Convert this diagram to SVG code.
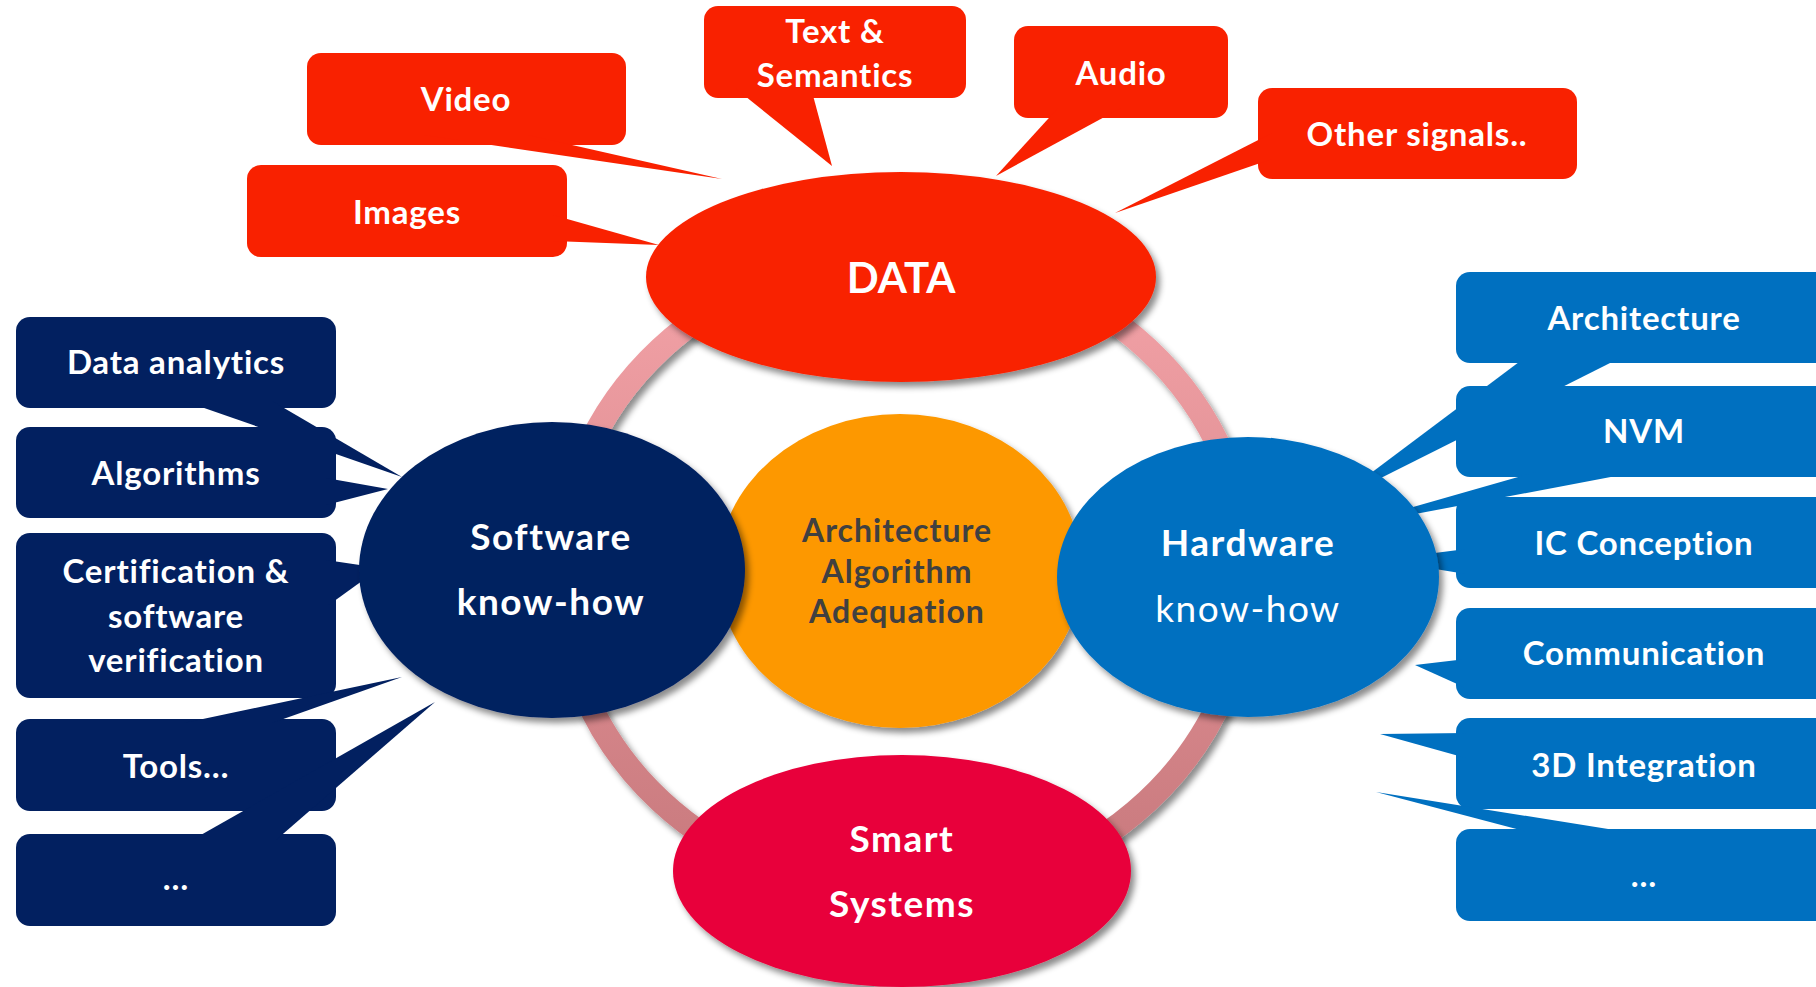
<svg xmlns="http://www.w3.org/2000/svg" width="1816" height="987" viewBox="0 0 1816 987">
  <defs>
    <linearGradient id="ringGrad" gradientUnits="userSpaceOnUse" x1="0" y1="255" x2="0" y2="895">
      <stop offset="0" stop-color="#F4A3A8"/>
      <stop offset="1" stop-color="#C7787C"/>
    </linearGradient>
    <filter id="shadow" x="-10%" y="-10%" width="125%" height="130%">
      <feDropShadow dx="4" dy="5" stdDeviation="3" flood-color="#000" flood-opacity="0.45"/>
    </filter>
    <style>
      .red { fill: #F92100; }
      .navy { fill: #022060; }
      .blue { fill: #0070C0; }
      .lbl { font-family: "Lato", "Liberation Sans", sans-serif; font-weight: 700; fill: #FFFFFF; text-anchor: middle; }
      .call { font-size: 33px; letter-spacing: 0.8px; }
      .big { font-size: 37px; letter-spacing: 1.5px; }
      .thin { font-weight: 400; }
      .core { font-family: "Lato", "Liberation Sans", sans-serif; font-weight: 700; font-size: 32px; letter-spacing: 1px; fill: #404040; text-anchor: middle; }
    </style>
  </defs>

  <rect width="1816" height="987" fill="#FFFFFF"/>

  <!-- ring joining the four poles -->
  <g id="connectors">
    <ellipse cx="904" cy="575" rx="344" ry="320" fill="none" stroke="url(#ringGrad)" stroke-width="24" filter="url(#shadow)"/>
  </g>

  <!-- data sources (red callouts) -->
  <g id="video">
    <rect class="red" x="307" y="53" width="319" height="92" rx="14"/>
    <polygon class="red" points="424,135 528,135 722,179"/>
    <text class="lbl call" x="466" y="111">Video</text>
  </g>
  <g id="text-semantics">
    <rect class="red" x="704" y="6" width="262" height="92" rx="14"/>
    <polygon class="red" points="735,88 811,88 832,166"/>
    <text class="lbl call" x="835" y="43">Text &amp;</text>
    <text class="lbl call" x="835" y="87">Semantics</text>
  </g>
  <g id="audio">
    <rect class="red" x="1014" y="26" width="214" height="92" rx="14"/>
    <polygon class="red" points="1058,108 1121,108 996,176"/>
    <text class="lbl call" x="1121" y="85">Audio</text>
  </g>
  <g id="other-signals">
    <rect class="red" x="1258" y="88" width="319" height="91" rx="14"/>
    <polygon class="red" points="1272,133 1272,159 1115,213"/>
    <text class="lbl call" x="1417" y="146">Other signals..</text>
  </g>
  <g id="images">
    <rect class="red" x="247" y="165" width="320" height="92" rx="14"/>
    <polygon class="red" points="553,215 553,241 659,245"/>
    <text class="lbl call" x="407" y="224">Images</text>
  </g>

  <!-- software topics (navy callouts) -->
  <g id="data-analytics">
    <rect class="navy" x="16" y="317" width="320" height="91" rx="14"/>
    <polygon class="navy" points="184,401 272,401 402,477"/>
    <text class="lbl call" x="176" y="374">Data analytics</text>
  </g>
  <g id="algorithms">
    <rect class="navy" x="16" y="427" width="320" height="91" rx="14"/>
    <polygon class="navy" points="326,478 326,505 388,489"/>
    <text class="lbl call" x="176" y="485">Algorithms</text>
  </g>
  <g id="certification">
    <rect class="navy" x="16" y="533" width="320" height="165" rx="14"/>
    <polygon class="navy" points="326,560 326,607 380,568"/>
    <text class="lbl call" x="176" y="583">Certification &amp;</text>
    <text class="lbl call" x="176" y="628">software</text>
    <text class="lbl call" x="176" y="672">verification</text>
  </g>
  <g id="tools">
    <rect class="navy" x="16" y="719" width="320" height="92" rx="14"/>
    <polygon class="navy" points="184,723 272,723 402,677"/>
    <text class="lbl call" x="176" y="778">Tools…</text>
  </g>
  <g id="software-more">
    <rect class="navy" x="16" y="834" width="320" height="92" rx="14"/>
    <polygon class="navy" points="192,840 276,840 435,702"/>
    <text class="lbl call" x="176" y="890">…</text>
  </g>

  <!-- hardware topics (blue callouts) -->
  <g id="architecture">
    <rect class="blue" x="1456" y="272" width="380" height="91" rx="14"/>
    <polygon class="blue" points="1527,356 1624,356 1331,503"/>
    <text class="lbl call" x="1644" y="330">Architecture</text>
  </g>
  <g id="nvm">
    <rect class="blue" x="1456" y="386" width="380" height="91" rx="14"/>
    <polygon class="blue" points="1536,472 1637,472 1336,529"/>
    <text class="lbl call" x="1644" y="443">NVM</text>
  </g>
  <g id="ic-conception">
    <rect class="blue" x="1456" y="497" width="380" height="91" rx="14"/>
    <polygon class="blue" points="1466,549 1466,574 1380,560"/>
    <text class="lbl call" x="1644" y="555">IC Conception</text>
  </g>
  <g id="communication">
    <rect class="blue" x="1456" y="608" width="380" height="91" rx="14"/>
    <polygon class="blue" points="1466,659 1466,688 1415,665"/>
    <text class="lbl call" x="1644" y="665">Communication</text>
  </g>
  <g id="integration-3d">
    <rect class="blue" x="1456" y="718" width="380" height="91" rx="14"/>
    <polygon class="blue" points="1466,733 1466,758 1380,734"/>
    <text class="lbl call" x="1644" y="777">3D Integration</text>
  </g>
  <g id="hardware-more">
    <rect class="blue" x="1456" y="829" width="380" height="92" rx="14"/>
    <polygon class="blue" points="1532,833 1633,833 1376,792"/>
    <text class="lbl call" x="1644" y="887">…</text>
  </g>

  <!-- central ellipses -->
  <g id="adequation">
    <ellipse cx="900" cy="571" rx="182" ry="157" fill="#FD9800" filter="url(#shadow)"/>
    <text class="core" x="897" y="542">Architecture</text>
    <text class="core" x="897" y="583">Algorithm</text>
    <text class="core" x="897" y="623">Adequation</text>
  </g>
  <g id="data">
    <ellipse cx="901" cy="277" rx="255" ry="105" fill="#F92100" filter="url(#shadow)"/>
    <text class="lbl" x="901" y="293" font-size="42">DATA</text>
  </g>
  <g id="smart-systems">
    <ellipse cx="902" cy="871" rx="229" ry="116" fill="#E8003A" filter="url(#shadow)"/>
    <text class="lbl big" x="902" y="852">Smart</text>
    <text class="lbl big" x="902" y="917">Systems</text>
  </g>
  <g id="software">
    <ellipse cx="552" cy="570" rx="193" ry="148" fill="#022060" filter="url(#shadow)"/>
    <text class="lbl big" x="551" y="550">Software</text>
    <text class="lbl big" x="551" y="615">know-how</text>
  </g>
  <g id="hardware">
    <ellipse cx="1248" cy="577" rx="191" ry="140" fill="#0070C0" filter="url(#shadow)"/>
    <text class="lbl big" x="1248" y="556">Hardware</text>
    <text class="lbl big thin" x="1248" y="622" font-size="38" letter-spacing="2">know-how</text>
  </g>
</svg>
